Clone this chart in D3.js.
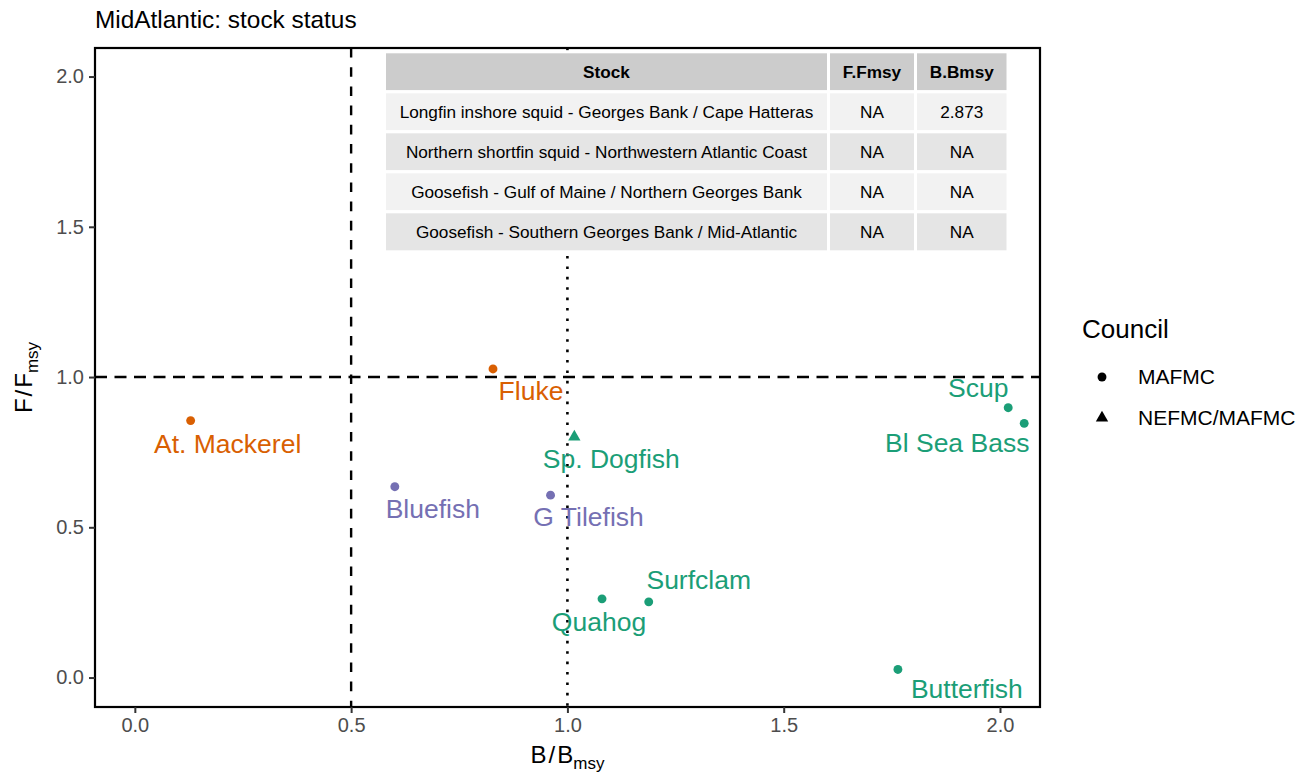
<!DOCTYPE html>
<html>
<head>
<meta charset="utf-8">
<script src="https://cdn.jsdelivr.net/npm/d3@7"></script>
<style>
  body { margin: 0; background: #fff; }
  svg { display: block; }
  text { font-family: "Liberation Sans", Arial, Helvetica, sans-serif; }
</style>
</head>
<body>
<svg id="chart" width="1310" height="776"></svg>
<script>
// Stock status: biomass ratio vs fishing mortality ratio
const stocks      = ["At. Mackerel", "Fluke", "Bluefish", "G Tilefish", "Sp. Dogfish",
                     "Scup", "Bl Sea Bass", "Quahog", "Surfclam", "Butterfish"];
const bBmsy       = [0.129, 0.828, 0.601, 0.961, 1.016, 2.019, 2.056, 1.080, 1.188, 1.764];
const fFmsy       = [0.855, 1.027, 0.635, 0.607, 0.801, 0.898, 0.846, 0.262, 0.252, 0.027];
const council     = ["MAFMC", "MAFMC", "MAFMC", "MAFMC", "NEFMC/MAFMC",
                     "MAFMC", "MAFMC", "MAFMC", "MAFMC", "MAFMC"];
const statusGroup = ["a", "a", "b", "b", "c", "c", "c", "c", "c", "c"];

const councilLevels = ["MAFMC", "NEFMC/MAFMC"];
const xTicks = [0, 0.5, 1, 1.5, 2];
const yTicks = [0, 0.5, 1, 1.5, 2];

// Stocks with missing ratios, listed in the inset table
const tableHeader = ["Stock", "F.Fmsy", "B.Bmsy"];
const tableStock  = ["Longfin inshore squid - Georges Bank / Cape Hatteras",
                     "Northern shortfin squid - Northwestern Atlantic Coast",
                     "Goosefish - Gulf of Maine / Northern Georges Bank",
                     "Goosefish - Southern Georges Bank / Mid-Atlantic"];
const tableF      = ["NA", "NA", "NA", "NA"];
const tableB      = ["2.873", "NA", "NA", "NA"];

// Label placement (pixel offsets from each point)
const labelNudge = {
  "At. Mackerel": [37, 32], "Fluke": [38, 31], "Bluefish": [38, 31],
  "G Tilefish": [38, 31], "Sp. Dogfish": [37, 31], "Scup": [-30, -11],
  "Bl Sea Bass": [-67, 29], "Quahog": [-3, 32], "Surfclam": [50, -13],
  "Butterfish": [69, 29]
};

const svg = d3.select("#chart");
const panel = { left: 95, right: 1040, top: 48, bottom: 707 };

const x = d3.scaleLinear().domain([-0.0921, 2.0925]).range([panel.left, panel.right]);
const y = d3.scaleLinear().domain([-0.098, 2.095]).range([panel.bottom, panel.top]);
const color = d3.scaleOrdinal().domain(["a", "b", "c"]).range(["#D95F02", "#7570B3", "#1B9E77"]);
const shape = d3.scaleOrdinal().domain(councilLevels).range([d3.symbolCircle, d3.symbolTriangle]);

const data = stocks.map((s, i) => ({
  stock: s, b: bBmsy[i], f: fFmsy[i], council: council[i], group: statusGroup[i]
}));

// Title
svg.append("text").attr("x", 95).attr("y", 28)
  .attr("font-size", 24.4).attr("fill", "#000").text("MidAtlantic: stock status");

// Reference lines
const gLines = svg.append("g");
gLines.append("line")
  .attr("x1", x(1)).attr("x2", x(1)).attr("y1", panel.top).attr("y2", panel.bottom)
  .attr("stroke", "#000").attr("stroke-width", 2.6)
  .attr("stroke-dasharray", "2.6,7.8");
gLines.append("line")
  .attr("x1", x(0.5)).attr("x2", x(0.5)).attr("y1", panel.top).attr("y2", panel.bottom)
  .attr("stroke", "#000").attr("stroke-width", 2.4)
  .attr("stroke-dasharray", "9.6,9.6").attr("stroke-linecap", "butt");
gLines.append("line")
  .attr("x1", panel.left).attr("x2", panel.right).attr("y1", y(1)).attr("y2", y(1))
  .attr("stroke", "#000").attr("stroke-width", 2.4)
  .attr("stroke-dasharray", "12,7.5").attr("stroke-linecap", "butt");

// Inset table
const colEdges = [384.5, 828.5, 915.5, 1008];
const rowTop = 51.8, rowH = 40;
const tableRows = [tableHeader].concat(tableStock.map((s, i) => [s, tableF[i], tableB[i]]));
const gTable = svg.append("g");
tableRows.forEach((row, r) => {
  row.forEach((cell, c) => {
    const x0 = colEdges[c], x1 = colEdges[c + 1];
    const y0 = rowTop + r * rowH;
    const fill = r === 0 ? "#CCCCCC" : (r % 2 === 1 ? "#F2F2F2" : "#E5E5E5");
    gTable.append("rect").attr("x", x0).attr("y", y0)
      .attr("width", x1 - x0).attr("height", rowH)
      .attr("fill", fill).attr("stroke", "#fff").attr("stroke-width", 3);
    gTable.append("text")
      .attr("x", (x0 + x1) / 2).attr("y", y0 + rowH / 2)
      .attr("text-anchor", "middle").attr("dominant-baseline", "central")
      .attr("font-size", 17.2).attr("font-weight", r === 0 ? "bold" : "normal")
      .attr("fill", "#000").text(cell);
  });
});

// Points
const sym = d3.symbol();
svg.append("g").selectAll("path").data(data).join("path")
  .attr("transform", d => `translate(${x(d.b)},${y(d.f)})`)
  .attr("d", d => sym.type(shape(d.council)).size(d.council === "MAFMC" ? 62 : 66)())
  .attr("fill", d => color(d.group));

// Point labels
svg.append("g").selectAll("text").data(data).join("text")
  .attr("x", d => x(d.b) + labelNudge[d.stock][0])
  .attr("y", d => y(d.f) + labelNudge[d.stock][1])
  .attr("text-anchor", "middle").attr("font-size", 26.5)
  .attr("fill", d => color(d.group)).text(d => d.stock);

// Panel border
svg.append("rect").attr("x", panel.left).attr("y", panel.top)
  .attr("width", panel.right - panel.left).attr("height", panel.bottom - panel.top)
  .attr("fill", "none").attr("stroke", "#000").attr("stroke-width", 2.2);

// Axes
const xAxis = svg.append("g").attr("transform", `translate(0,${panel.bottom})`)
  .call(d3.axisBottom(x).tickValues(xTicks).tickFormat(d3.format(".1f")).tickSize(6).tickPadding(5));
const yAxis = svg.append("g").attr("transform", `translate(${panel.left},0)`)
  .call(d3.axisLeft(y).tickValues(yTicks).tickFormat(d3.format(".1f")).tickSize(6).tickPadding(5));
[xAxis, yAxis].forEach(g => {
  g.select(".domain").remove();
  g.selectAll(".tick line").attr("stroke", "#333").attr("stroke-width", 2);
  g.selectAll(".tick text").attr("fill", "#4D4D4D").attr("font-size", 20)
    .attr("font-family", "'Liberation Sans', Arial, Helvetica, sans-serif");
});

// Axis titles with subscripts
const xt = svg.append("text").attr("x", (panel.left + panel.right) / 2).attr("y", 763)
  .attr("text-anchor", "middle").attr("font-size", 24).attr("fill", "#000");
xt.append("tspan").text("B");
xt.append("tspan").attr("dx", 2).text("/");
xt.append("tspan").attr("dx", 2).text("B");
xt.append("tspan").attr("font-size", 17).attr("dy", 6).text("msy");

const yt = svg.append("text")
  .attr("transform", `translate(32,${(panel.top + panel.bottom) / 2}) rotate(-90)`)
  .attr("text-anchor", "middle").attr("font-size", 24).attr("fill", "#000");
yt.append("tspan").text("F");
yt.append("tspan").attr("dx", 2).text("/");
yt.append("tspan").attr("dx", 2).text("F");
yt.append("tspan").attr("font-size", 17).attr("dy", 6).text("msy");

// Legend for council shapes
const legend = svg.append("g");
legend.append("text").attr("x", 1082).attr("y", 338)
  .attr("font-size", 26).attr("fill", "#000").text("Council");
councilLevels.forEach((lv, i) => {
  const cy = 377 + i * 41;
  legend.append("path")
    .attr("transform", `translate(1102,${cy})`)
    .attr("d", sym.type(shape(lv)).size(lv === "MAFMC" ? 62 : 66)())
    .attr("fill", "#000");
  legend.append("text").attr("x", 1138).attr("y", cy + 7)
    .attr("font-size", 21).attr("fill", "#000").text(lv);
});
</script>
</body>
</html>
